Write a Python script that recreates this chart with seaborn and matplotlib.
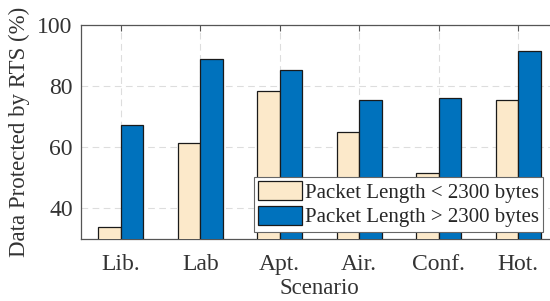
import pandas as pd
import seaborn as sns
import matplotlib.pyplot as plt

scenarios = ['Lib.', 'Lab', 'Apt.', 'Air.', 'Conf.', 'Hot.']
short_pkt = [33.8, 61.3, 78.4, 64.9, 51.5, 75.4]
long_pkt = [67.2, 88.9, 85.2, 75.4, 76.1, 91.5]
series = ['Packet Length < 2300 bytes', 'Packet Length > 2300 bytes']

df = pd.DataFrame({
    'Scenario': scenarios * 2,
    'value': short_pkt + long_pkt,
    'series': [series[0]] * 6 + [series[1]] * 6,
})

sns.set_style('white')
plt.rcParams['font.family'] = ['Liberation Serif', 'DejaVu Serif']

fig = plt.figure(figsize=(5.5, 3.01), dpi=100)
# axes runs past the right edge, like the cropped original
ax = fig.add_axes([81 / 550, 62 / 301, 477 / 550, 214 / 301])

sns.barplot(data=df, x='Scenario', y='value', hue='series',
            palette=['#FCE9CA', '#0072BD'], saturation=1, width=0.57,
            edgecolor='#1a1a1a', linewidth=0.9, ax=ax, zorder=3)

ax.set_ylim(30, 100)
ax.set_xlim(-0.5, 5.5)
ax.set_yticks([40, 60, 80, 100])
ax.grid(True, linestyle=(0, (6, 4)), color='#dddddd', linewidth=0.8, zorder=0)
ax.set_axisbelow(True)
for s in ax.spines.values():
    s.set_color('#555555')
    s.set_linewidth(0.9)
ax.spines['right'].set_visible(False)
ax.tick_params(direction='in', top=True, right=False, length=4, color='#555555',
               labelsize=17, labelcolor='#333333', pad=6)
ax.tick_params(axis='x', pad=11)
ax.set_xlabel('Scenario', fontsize=16.5, color='#333333', labelpad=2)
ax.set_ylabel('Data Protected by RTS (%)', fontsize=16.5, color='#333333', labelpad=5)

leg = ax.legend(loc='lower right', bbox_to_anchor=(462 / 477, 0.035), fontsize=15,
                frameon=True, fancybox=False, edgecolor='#666666', framealpha=1,
                handlelength=2.1, handleheight=1.0, handletextpad=0.15,
                borderpad=0.2, labelspacing=0.15, borderaxespad=0)
leg.get_frame().set_linewidth(0.8)

fig.savefig('out.png', dpi=100)
